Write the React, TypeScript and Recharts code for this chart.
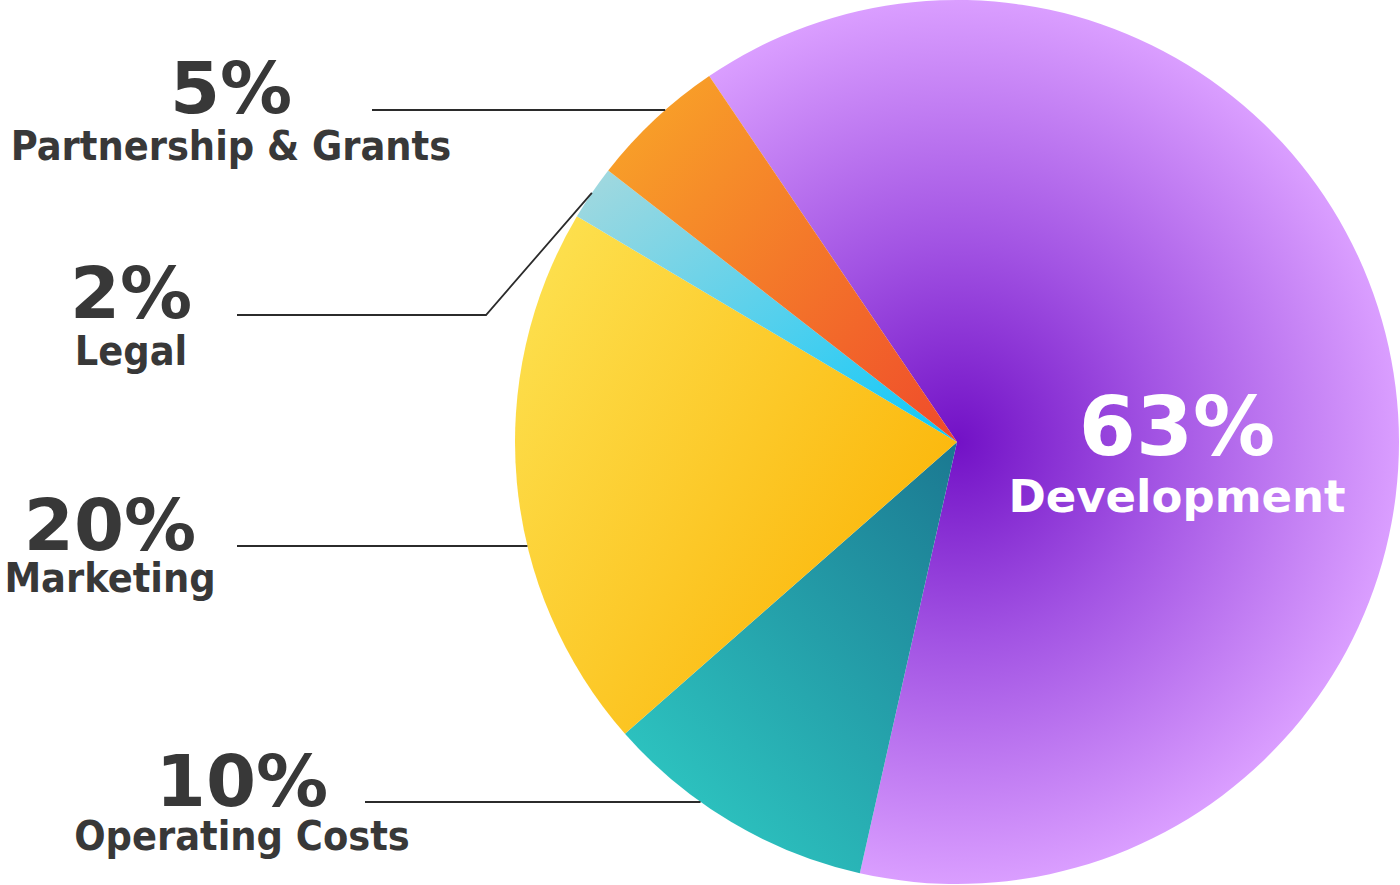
import { PieChart, Pie, Cell } from 'recharts';

const categories = ['Development', 'Operating Costs', 'Marketing', 'Legal', 'Partnership & Grants'];
const shares = [63, 10, 20, 2, 5];
const fills = ['url(#gradDev)', 'url(#gradOps)', 'url(#gradMkt)', 'url(#gradLegal)', 'url(#gradPartner)'];

const data = categories.map((name, i) => ({ name, value: shares[i] }));

const CX = 957;
const CY = 442;
const R = 442;

// where the callout text and leader lines sit
const callouts: Record<string, any> = {
  'Partnership & Grants': { textX: 231, pctY: 113, nameY: 160, lineY: 110, lineX: 372 },
  Legal: { textX: 131, pctY: 318, nameY: 365, lineY: 315, lineX: 237, elbowX: 486 },
  Marketing: { textX: 110, pctY: 550, nameY: 592, lineY: 546, lineX: 237 },
  'Operating Costs': { textX: 242, pctY: 806, nameY: 850, lineY: 802, lineX: 365 },
  Development: { textX: 1177, pctY: 455, nameY: 512, inside: true },
};

const pctFont = '"DejaVu Sans", sans-serif';
const nameFont = '"DejaVu Sans Condensed", "DejaVu Sans", sans-serif';

const renderLabel = (props: any) => {
  const { cx, cy, outerRadius, midAngle, index, value } = props;
  const name = categories[index];
  const c = callouts[name];
  if (!c) return null;

  if (c.inside) {
    return (
      <g>
        <text x={c.textX} y={c.pctY} textAnchor="middle" fill="#fff" fontFamily={pctFont} fontWeight="bold" fontSize={82}>
          {value}%
        </text>
        <text x={c.textX} y={c.nameY} textAnchor="middle" fill="#fff" fontFamily={pctFont} fontWeight="bold" fontSize={45}>
          {name}
        </text>
      </g>
    );
  }

  let d;
  if (c.elbowX) {
    const rad = (midAngle * Math.PI) / 180;
    const ex = cx + outerRadius * Math.cos(rad);
    const ey = cy - outerRadius * Math.sin(rad);
    d = `M${c.lineX},${c.lineY}H${c.elbowX}L${ex},${ey}`;
  } else {
    const dy = c.lineY - cy;
    const ex = cx - Math.sqrt(outerRadius * outerRadius - dy * dy);
    d = `M${c.lineX},${c.lineY}H${ex}`;
  }

  return (
    <g>
      <path d={d} stroke="#2b2b2b" strokeWidth={1.8} fill="none" />
      <text x={c.textX} y={c.pctY} textAnchor="middle" fill="#383838" fontFamily={pctFont} fontWeight="bold" fontSize={72}>
        {value}%
      </text>
      <text x={c.textX} y={c.nameY} textAnchor="middle" fill="#383838" fontFamily={nameFont} fontWeight="bold" fontSize={41}>
        {name}
      </text>
    </g>
  );
};

export default function App() {
  return (
    <div>
      <style>{`body{margin:0;background:#fff}`}</style>
      <PieChart width={1400} height={885} margin={{ top: 0, right: 0, bottom: 0, left: 0 }}>
        <defs>
          <radialGradient id="gradDev" gradientUnits="userSpaceOnUse" cx={CX} cy={CY} r={R}>
            <stop offset="0" stopColor="#7211c6" />
            <stop offset="0.45" stopColor="#a253e3" />
            <stop offset="1" stopColor="#da9eff" />
          </radialGradient>
          <linearGradient id="gradOps" x1="0.2" y1="1" x2="1" y2="0">
            <stop offset="0" stopColor="#2ec9c3" />
            <stop offset="1" stopColor="#1b7891" />
          </linearGradient>
          <linearGradient id="gradMkt" x1="0" y1="0.15" x2="1" y2="0.85">
            <stop offset="0" stopColor="#fde04e" />
            <stop offset="1" stopColor="#fbb000" />
          </linearGradient>
          <linearGradient id="gradLegal" x1="0" y1="0" x2="1" y2="1">
            <stop offset="0" stopColor="#a6d9de" />
            <stop offset="1" stopColor="#0cc8fa" />
          </linearGradient>
          <linearGradient id="gradPartner" x1="0" y1="0" x2="1" y2="1">
            <stop offset="0" stopColor="#f9a928" />
            <stop offset="1" stopColor="#ef4a2b" />
          </linearGradient>
        </defs>
        <Pie
          data={data}
          dataKey="value"
          nameKey="name"
          cx={CX}
          cy={CY}
          outerRadius={R}
          startAngle={124.1}
          endAngle={124.1 - 360}
          stroke="none"
          label={renderLabel}
          labelLine={false}
          isAnimationActive={false}
        >
          {data.map((entry, i) => (
            <Cell key={entry.name} fill={fills[i]} />
          ))}
        </Pie>
      </PieChart>
    </div>
  );
}
